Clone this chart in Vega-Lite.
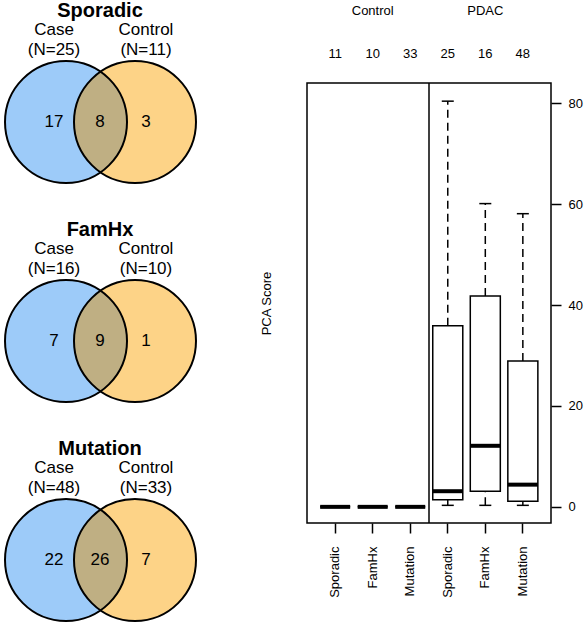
{
  "$schema": "https://vega.github.io/schema/vega-lite/v6.json",
  "padding": {"left": 0, "top": 0, "right": 0, "bottom": 0},
  "bounds": "flush",
  "spacing": 110,
  "config": {
    "font": "Liberation Sans",
    "view": {"stroke": null},
    "axis": {"labelFont": "Liberation Sans", "titleFont": "Liberation Sans", "grid": false},
    "text": {"font": "Liberation Sans", "color": "black"}
  },
  "datasets": {
    "sets": [
      {"panel": "Sporadic", "set": "Case", "n": 25},
      {"panel": "Sporadic", "set": "Control", "n": 11},
      {"panel": "FamHx", "set": "Case", "n": 16},
      {"panel": "FamHx", "set": "Control", "n": 10},
      {"panel": "Mutation", "set": "Case", "n": 48},
      {"panel": "Mutation", "set": "Control", "n": 33}
    ],
    "regions": [
      {"panel": "Sporadic", "region": "Case", "count": 17},
      {"panel": "Sporadic", "region": "Both", "count": 8},
      {"panel": "Sporadic", "region": "Control", "count": 3},
      {"panel": "FamHx", "region": "Case", "count": 7},
      {"panel": "FamHx", "region": "Both", "count": 9},
      {"panel": "FamHx", "region": "Control", "count": 1},
      {"panel": "Mutation", "region": "Case", "count": 22},
      {"panel": "Mutation", "region": "Both", "count": 26},
      {"panel": "Mutation", "region": "Control", "count": 7}
    ],
    "box": [
      {"key": "Control Sporadic", "group": "Control", "type": "Sporadic", "n": 11, "lower": 0, "q1": 0, "median": 0, "q3": 0, "upper": 0},
      {"key": "Control FamHx", "group": "Control", "type": "FamHx", "n": 10, "lower": 0, "q1": 0, "median": 0, "q3": 0, "upper": 0},
      {"key": "Control Mutation", "group": "Control", "type": "Mutation", "n": 33, "lower": 0, "q1": 0, "median": 0, "q3": 0, "upper": 0},
      {"key": "PDAC Sporadic", "group": "PDAC", "type": "Sporadic", "n": 25, "lower": 0.3, "q1": 1.4, "median": 3.1, "q3": 35.9, "upper": 80.4},
      {"key": "PDAC FamHx", "group": "PDAC", "type": "FamHx", "n": 16, "lower": 0.3, "q1": 3.1, "median": 12.1, "q3": 41.8, "upper": 60.1},
      {"key": "PDAC Mutation", "group": "PDAC", "type": "Mutation", "n": 48, "lower": 0.3, "q1": 1.1, "median": 4.4, "q3": 28.9, "upper": 58.1}
    ]
  },
  "hconcat": [
    {
      "width": 194,
      "height": 516,
      "view": {"stroke": "white", "strokeWidth": 1},
      "encoding": {
        "y": {"field": "panel", "type": "nominal", "scale": {"type": "point", "domain": ["Sporadic", "FamHx", "Mutation"], "padding": 0.178}, "axis": null}
      },
      "layer": [
        {
          "data": {"name": "sets"},
          "transform": [{"filter": "datum.set === 'Case'"}],
          "mark": {"type": "point", "shape": "circle", "size": 14884, "filled": true, "fill": "#9DCBF9", "opacity": 1, "strokeWidth": 0, "xOffset": 12},
          "encoding": {"x": {"field": "set", "type": "nominal", "scale": {"type": "band", "domain": ["Case", "Both", "Control"], "paddingInner": 0, "paddingOuter": 0.609}, "axis": null}}
        },
        {
          "data": {"name": "sets"},
          "transform": [{"filter": "datum.set === 'Control'"}],
          "mark": {"type": "point", "shape": "circle", "size": 14884, "filled": true, "fill": "#FDD387", "opacity": 1, "strokeWidth": 0, "xOffset": -11},
          "encoding": {"x": {"field": "set", "type": "nominal", "axis": null}}
        },
        {
          "data": {"name": "regions"},
          "transform": [{"filter": "datum.region === 'Both'"}],
          "mark": {"type": "point", "shape": "M0,-0.8245A1,1,0,0,1,0,0.8245A1,1,0,0,1,0,-0.8245Z", "size": 14884, "filled": true, "fill": "#BFAF83", "opacity": 1, "strokeWidth": 0, "xOffset": 0.5},
          "encoding": {"x": {"field": "region", "type": "nominal", "axis": null}}
        },
        {
          "data": {"name": "sets"},
          "transform": [{"filter": "datum.set === 'Case'"}],
          "mark": {"type": "point", "shape": "circle", "size": 14884, "filled": false, "stroke": "black", "strokeWidth": 2, "opacity": 1, "xOffset": 12},
          "encoding": {"x": {"field": "set", "type": "nominal", "axis": null}}
        },
        {
          "data": {"name": "sets"},
          "transform": [{"filter": "datum.set === 'Control'"}],
          "mark": {"type": "point", "shape": "circle", "size": 14884, "filled": false, "stroke": "black", "strokeWidth": 2, "opacity": 1, "xOffset": -11},
          "encoding": {"x": {"field": "set", "type": "nominal", "axis": null}}
        },
        {
          "data": {"name": "regions"},
          "mark": {"type": "text", "fontSize": 17, "baseline": "middle", "align": "center"},
          "encoding": {"x": {"field": "region", "type": "nominal", "axis": null}, "text": {"field": "count"}}
        },
        {
          "data": {"name": "sets"},
          "mark": {"type": "text", "fontSize": 17, "baseline": "middle", "align": "center", "dy": -92},
          "encoding": {"x": {"field": "set", "type": "nominal", "axis": null}, "text": {"field": "set"}}
        },
        {
          "data": {"name": "sets"},
          "transform": [{"calculate": "'(N=' + datum.n + ')'", "as": "nlabel"}],
          "mark": {"type": "text", "fontSize": 17, "baseline": "middle", "align": "center", "dy": -72},
          "encoding": {"x": {"field": "set", "type": "nominal", "axis": null}, "text": {"field": "nlabel"}}
        },
        {
          "data": {"name": "regions"},
          "transform": [{"filter": "datum.region === 'Both'"}],
          "mark": {"type": "text", "fontSize": 20, "fontWeight": "bold", "baseline": "middle", "align": "center", "dy": -111},
          "encoding": {"x": {"field": "region", "type": "nominal", "axis": null}, "text": {"field": "panel"}}
        }
      ]
    },
    {
      "width": 244,
      "height": 440,
      "view": {"stroke": "black", "strokeWidth": 1.5},
      "data": {"name": "box"},
      "encoding": {
        "x": {
          "field": "key", "type": "nominal",
          "scale": {"type": "band", "domain": ["Control Sporadic", "Control FamHx", "Control Mutation", "PDAC Sporadic", "PDAC FamHx", "PDAC Mutation"], "paddingInner": 0, "paddingOuter": 0.25},
          "axis": {"title": null, "labelAngle": -90, "labelExpr": "split(datum.label, ' ')[1]", "tickSize": 10, "tickColor": "black", "tickWidth": 1.5, "labelPadding": 13, "domain": false, "labelFontSize": 13, "labelColor": "black"}
        }
      },
      "layer": [
        {
          "mark": {"type": "rule", "strokeDash": [8, 5], "strokeWidth": 1.5, "color": "black"},
          "encoding": {
            "y": {"field": "q3", "type": "quantitative", "scale": {"domain": [-3.2, 84], "nice": false, "zero": false},
              "axis": {"orient": "left", "labels": false, "ticks": false, "domain": false, "grid": false, "title": "PCA Score", "titleFontSize": 13, "titleFontWeight": "normal", "titleColor": "black", "titlePadding": 34, "minExtent": 0}},
            "y2": {"field": "upper"}
          }
        },
        {
          "mark": {"type": "rule", "strokeDash": [8, 5], "strokeWidth": 1.5, "color": "black"},
          "encoding": {"y": {"field": "lower", "type": "quantitative", "axis": null}, "y2": {"field": "q1"}}
        },
        {
          "mark": {"type": "tick", "thickness": 1.5, "size": 12, "color": "black", "opacity": 1},
          "encoding": {"y": {"field": "upper", "type": "quantitative",
            "axis": {"orient": "right", "values": [0, 20, 40, 60, 80], "tickSize": 10, "tickColor": "black", "tickWidth": 1.5, "labelPadding": 7, "labelFontSize": 13, "labelColor": "black", "domain": false, "grid": false, "title": null}}}
        },
        {
          "mark": {"type": "tick", "thickness": 1.5, "size": 12, "color": "black", "opacity": 1},
          "encoding": {"y": {"field": "lower", "type": "quantitative", "axis": null}}
        },
        {
          "mark": {"type": "bar", "fill": "white", "stroke": "black", "strokeWidth": 1.5, "width": {"band": 0.8}},
          "encoding": {"y": {"field": "q1", "type": "quantitative", "axis": null}, "y2": {"field": "q3"}}
        },
        {
          "mark": {"type": "tick", "thickness": 4, "size": 30, "color": "black", "opacity": 1},
          "encoding": {"y": {"field": "median", "type": "quantitative", "axis": null}}
        },
        {
          "transform": [{"filter": "datum.key === 'PDAC Sporadic'"}],
          "mark": {"type": "rule", "strokeWidth": 1.5, "color": "black"},
          "encoding": {"x": {"field": "key", "type": "nominal", "bandPosition": 0}}
        },
        {
          "mark": {"type": "text", "fontSize": 13, "dy": -29, "baseline": "middle"},
          "encoding": {"y": {"datum": 84, "type": "quantitative", "axis": null}, "text": {"field": "n"}}
        },
        {
          "transform": [{"filter": "datum.type === 'FamHx'"}],
          "mark": {"type": "text", "fontSize": 13, "dy": -72, "baseline": "middle"},
          "encoding": {"y": {"datum": 84, "type": "quantitative", "axis": null}, "text": {"field": "group"}}
        }
      ],
      "resolve": {"axis": {"y": "independent"}}
    }
  ]
}
